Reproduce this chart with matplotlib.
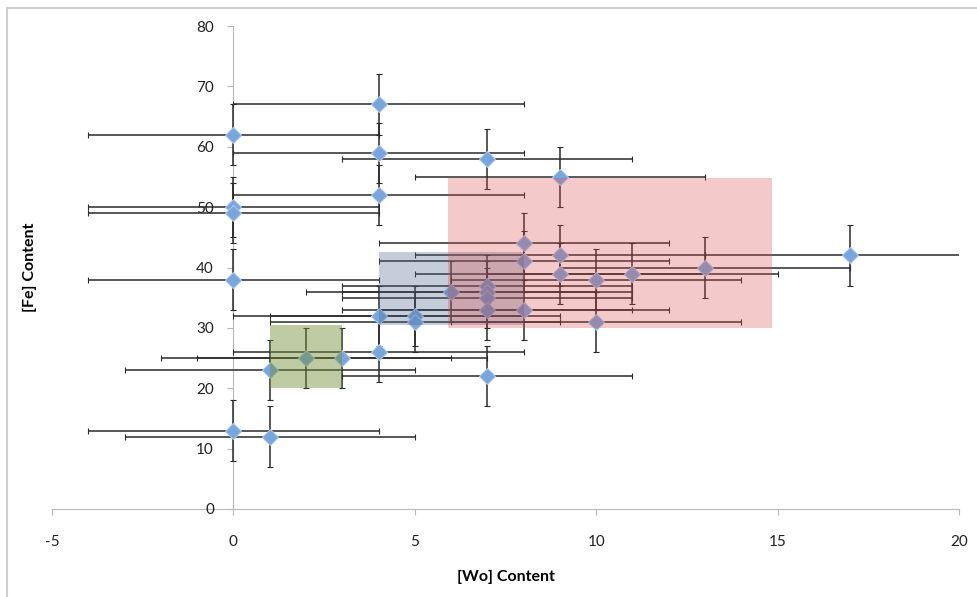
import matplotlib
matplotlib.use("Agg")
import matplotlib.pyplot as plt
from matplotlib.patches import Rectangle

# Data
wo = [0, 4, 4, 7, 9, 4, 0, 0, 0, 8, 8, 9, 9, 10, 11, 13, 17, 6, 7, 7, 7, 7, 8, 10,
      4, 5, 5, 4, 3, 2, 1, 7, 0, 1]
fe = [62, 67, 59, 58, 55, 52, 50, 49, 38, 44, 41, 42, 39, 38, 39, 40, 42, 36, 37, 36, 35, 33, 33, 31,
      32, 32, 31, 26, 25, 25, 23, 22, 13, 12]
wo_err = [4] * len(wo)
fe_err = [5] * len(fe)

# Highlight regions: (x0, x1, y0, y1)
green_box = (1, 3, 20, 30.5)
blue_box = (4, 8, 30.5, 42.5)
red_box = (5.92, 14.85, 30, 54.8)

x_ticks = [-5, 0, 5, 10, 15, 20]
y_ticks = [0, 10, 20, 30, 40, 50, 60, 70, 80]

plt.rcParams['font.family'] = ['Lato', 'DejaVu Sans']
plt.rcParams['axes.unicode_minus'] = False

fig = plt.figure(figsize=(9.77, 5.97), dpi=100)
ax = fig.add_axes([52 / 977, 1 - 509 / 597, (959 - 52) / 977, (509 - 26) / 597])

ax.errorbar(wo, fe, xerr=wo_err, yerr=fe_err, fmt='D', color='#78A5DC',
            markersize=8.5, markeredgecolor='#A8C6EC', markeredgewidth=0.8,
            ecolor='#2a2a2a', elinewidth=1.1, capsize=2.5, capthick=1.0, zorder=3)

for (x0, x1, y0, y1), fc, a in [(green_box, (0.45, 0.55, 0.2), 0.45),
                                (blue_box, (0.3, 0.4, 0.55), 0.32),
                                (red_box, (0.85, 0.3, 0.3), 0.30)]:
    ax.add_patch(Rectangle((x0, y0), x1 - x0, y1 - y0, facecolor=fc, alpha=a,
                           edgecolor='none', zorder=4))

ax.set_xlim(-5, 20)
ax.set_ylim(0, 80)
ax.set_xticks(x_ticks)
ax.set_yticks(y_ticks)

for s in ['top', 'right']:
    ax.spines[s].set_visible(False)
ax.spines['left'].set_position(('data', 0))
ax.spines['left'].set_color('#b8b8b8')
ax.spines['bottom'].set_color('#b8b8b8')
ax.spines['left'].set_zorder(1)
ax.spines['bottom'].set_zorder(1)

ax.tick_params(axis='both', direction='out', length=4, color='#b8b8b8',
               labelsize=11, labelcolor='#222222')
ax.tick_params(axis='x', pad=15)
ax.tick_params(axis='y', pad=10)

ax.set_xlabel('[Wo] Content', fontsize=11.5, fontweight='bold', labelpad=15)
fig.text(30 / 977, 1 - 267 / 597, '[Fe] Content', rotation=90,
         fontsize=11.5, fontweight='bold', ha='center', va='center')

# Chart outer border
fig.patches.append(Rectangle((7 / 977, -0.1), 1.2, 1 - 8 / 597 + 0.1,
                             transform=fig.transFigure, fill=False,
                             edgecolor='#cfcfcf', linewidth=1.5, zorder=0))

fig.savefig('out.png', dpi=100)
